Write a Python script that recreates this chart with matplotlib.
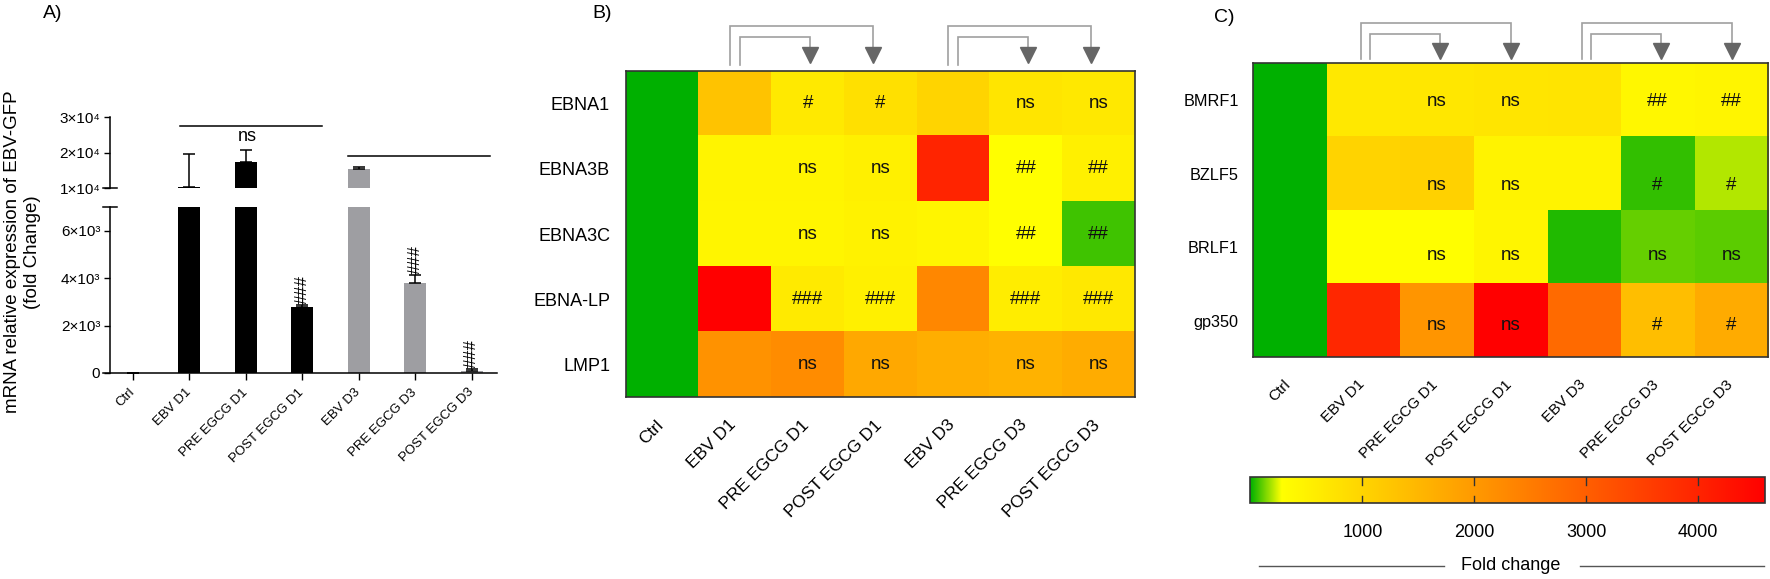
import numpy as np
import matplotlib
matplotlib.use('Agg')
import matplotlib.pyplot as plt
from matplotlib.colors import LinearSegmentedColormap, Normalize
from matplotlib.transforms import blended_transform_factory, ScaledTranslation
from matplotlib.lines import Line2D
import matplotlib.cm as cm

plt.rcParams['font.family'] = ['Liberation Sans', 'DejaVu Sans']

# ---------------- data ----------------
categories = ["Ctrl", "EBV D1", "PRE EGCG D1", "POST EGCG D1",
              "EBV D3", "PRE EGCG D3", "POST EGCG D3"]

# Panel A: mRNA relative expression of EBV-GFP
bar_values = [0, 10370, 17440, 2780, 15290, 3790, 100]
bar_err = [0, 9170, 3400, 90, 740, 340, 60]
hash_A = ["", "", "", "###", "", "###", "###"]
lower_ticks = [0, 2000, 4000, 6000]
lower_ticklabels = ["0", "2×10³", "4×10³", "6×10³"]
upper_ticks = [10000, 20000, 30000]
upper_ticklabels = ["1×10⁴", "2×10⁴", "3×10⁴"]

# Panel B: latent genes fold change
genes_B = ["EBNA1", "EBNA3B", "EBNA3C", "EBNA-LP", "LMP1"]
fold_B = [
    [0, 1296, 636, 805, 992, 720, 670],
    [0, 466, 466, 534, 3990, 282, 534],
    [0, 449, 449, 500, 449, 282, 70],
    [0, 4600, 619, 534, 2296, 585, 670],
    [0, 2127, 2228, 1754, 1652, 1568, 1669],
]
sig_B = [
    ["", "", "#", "#", "", "ns", "ns"],
    ["", "", "ns", "ns", "", "##", "##"],
    ["", "", "ns", "ns", "", "##", "##"],
    ["", "", "###", "###", "", "###", "###"],
    ["", "", "ns", "ns", "", "ns", "ns"],
]

# Panel C: lytic genes fold change
genes_C = ["BMRF1", "BZLF5", "BRLF1", "gp350"]
fold_C = [
    [0, 670, 680, 720, 737, 415, 449],
    [0, 1009, 1060, 483, 483, 56, 196],
    [0, 282, 282, 449, 37, 112, 101],
    [0, 3922, 2059, 4600, 2804, 1381, 1703],
]
sig_C = [
    ["", "", "ns", "ns", "", "##", "##"],
    ["", "", "ns", "ns", "", "#", "#"],
    ["", "", "ns", "ns", "", "ns", "ns"],
    ["", "", "ns", "ns", "", "#", "#"],
]
cbar_ticks = [1000, 2000, 3000, 4000]
cbar_range = (0, 4600)

# ---------------- layout helpers ----------------
W, H, DPI = 1770, 579, 100
fig = plt.figure(figsize=(W / DPI, H / DPI), dpi=DPI)


def fig_axes(x0, y0, x1, y1):
    return fig.add_axes([x0 / W, 1 - y1 / H, (x1 - x0) / W, (y1 - y0) / H])


def fy(ypx):
    return 1 - ypx / H


def shift(labels, dx_px, dy_px=0):
    off = ScaledTranslation(dx_px / DPI, -dy_px / DPI, fig.dpi_scale_trans)
    for lab in labels:
        lab.set_transform(lab.get_transform() + off)


# ---------------- Panel A ----------------
x = np.arange(len(categories))
bar_colors = ['#000000'] * 4 + ['#9e9ea2'] * 3
xlim = (-0.53, 6.45)
yaxis_x = -0.41

axL = fig_axes(103, 207, 497, 373)
axU = fig_axes(103, 117.3, 497, 188)
for ax, ylim in ((axL, (0, 7000)), (axU, (10000, 30000))):
    ax.bar(x, bar_values, width=0.39, color=bar_colors, zorder=2)
    ax.errorbar(x, bar_values, yerr=[np.zeros(len(x)), bar_err], fmt='none',
                ecolor='black', elinewidth=1.1, capsize=4.5, capthick=1.1, zorder=3)
    ax.set_xlim(*xlim)
    ax.set_ylim(*ylim)
    ax.patch.set_alpha(0)
    for s in ('top', 'right'):
        ax.spines[s].set_visible(False)
    ax.spines['left'].set_position(('data', yaxis_x))
    ax.spines['left'].set_linewidth(1.1)
    ax.spines['bottom'].set_linewidth(1.1)
    ax.tick_params(axis='y', direction='out', length=4.3, width=1.0, pad=2.5,
                   labelsize=11)

axL.spines['left'].set_bounds(0, 7000)
axL.set_yticks(lower_ticks)
axL.set_yticklabels(lower_ticklabels)
axL.set_xticks(x)
axL.set_xticklabels(categories, rotation=45, ha='right', va='top', fontsize=9.5)
axL.tick_params(axis='x', direction='out', length=5, width=1.0, pad=4.5)
shift(axL.get_xticklabels(), 4)

axU.spines['bottom'].set_visible(False)
axU.set_xticks([])
axU.set_yticks(upper_ticks)
axU.set_yticklabels(upper_ticklabels)

# axis break marks
axU.plot([-0.53, -0.28], [10000, 10000], color='black', lw=1.1, clip_on=False)
axL.plot([-0.53, -0.28], [7000, 7000], color='black', lw=1.1, clip_on=False)

# significance
axU.plot([0.83, 3.35], [27550, 27550], color='black', lw=1.1, clip_on=False)
axU.text(2.02, 24430, 'ns', ha='center', va='center', fontsize=13)
axU.plot([3.81, 6.33], [19060, 19060], color='black', lw=1.1, clip_on=False)
for i, s in enumerate(hash_A):
    if s:
        axL.text(x[i], bar_values[i] + bar_err[i] + 30, s, rotation=90,
                 ha='center', va='bottom', fontsize=12.5, clip_on=False)

fig.text(22.5 / W, fy(252), "mRNA relative expression of EBV-GFP\n(fold Change)",
         rotation=90, ha='center', va='center', multialignment='center',
         fontsize=13.5, linespacing=1.25)
fig.text(43 / W, fy(14), "A)", ha='left', va='center', fontsize=14)

# ---------------- heatmaps ----------------
cmap = LinearSegmentedColormap.from_list(
    'fold', [(0.0, '#00b000'), (280 / 4600, '#ffff00'), (1.0, '#ff0000')], N=4096)
norm = Normalize(*cbar_range)


def heatmap(box, genes, fold, sig, xfs, yfs, ypad, ann_dy=None):
    ax = fig_axes(*box)
    ax.imshow(np.array(fold, dtype=float), cmap=cmap, norm=norm, aspect='auto',
              interpolation='nearest')
    for s in ax.spines.values():
        s.set_linewidth(1.2)
        s.set_color('#333333')
    ax.set_xticks(range(len(categories)))
    ax.set_xticklabels(categories, rotation=45, ha='right', va='top', fontsize=xfs)
    ax.set_yticks(range(len(genes)))
    ax.set_yticklabels(genes, fontsize=yfs)
    ax.tick_params(axis='x', length=0, pad=14.4)
    ax.tick_params(axis='y', length=0, pad=ypad)
    shift(ax.get_xticklabels(), 4)
    for i, row in enumerate(sig):
        for j, s in enumerate(row):
            if s:
                t = ax.text(j, i, s, ha='center', va='center', fontsize=13.5,
                            color='#111111')
                if ann_dy is not None:
                    t.set_transform(t.get_transform() + ScaledTranslation(
                        0, -ann_dy[i] / DPI, fig.dpi_scale_trans))
    return ax


def brackets(ax, src, tgt_near, tgt_far, outer_top, inner_top, bottom, arrow_top,
             arrow_mid, dx_out, dx_in, dx_near, dx_far):
    tr = blended_transform_factory(ax.transData, fig.transFigure)
    line_kw = dict(color='#a0a0a0', lw=1.2, clip_on=False, transform=tr,
                   solid_joinstyle='miter')
    xo, xi = src + dx_out, src + dx_in
    xn, xf = tgt_near + dx_near, tgt_far + dx_far
    ax.plot([xo, xo, xf, xf], [fy(bottom), fy(outer_top), fy(outer_top), fy(arrow_top)],
            **line_kw)
    ax.plot([xi, xi, xn, xn], [fy(bottom), fy(inner_top), fy(inner_top), fy(arrow_top)],
            **line_kw)
    ax.plot([xn, xf], [fy(arrow_mid)] * 2, ls='none', marker='v', ms=11.5,
            color='#666666', transform=tr, clip_on=False)


# Panel B
axB = heatmap((626, 71, 1135, 397.3), genes_B, fold_B, sig_B, 12.5, 13, 11.5)
for src in (1, 4):
    brackets(axB, src, src + 1, src + 2, 25.7, 37.3, 65, 47, 55.3,
             -0.065, 0.07, 0.03, -0.1)
fig.text(592 / W, fy(14), "B)", ha='left', va='center', fontsize=14)

# Panel C
axC = heatmap((1252.7, 63.3, 1768, 357.3), genes_C, fold_C, sig_C, 11, 11.7, 10,
              ann_dy=[1, 12, 8, 5])
for src in (1, 4):
    brackets(axC, src, src + 1, src + 2, 23.3, 33.7, 59, 43, 50.5,
             -0.03, 0.09, 0.04, 0.01)
fig.text(1214 / W, fy(17), "C)", ha='left', va='center', fontsize=14)

# Colorbar
cax = fig_axes(1250.4, 477.3, 1765.4, 503.3)
sm = cm.ScalarMappable(norm=norm, cmap=cmap)
cb = fig.colorbar(sm, cax=cax, orientation='horizontal')
cb.set_ticks(cbar_ticks)
cb.set_ticklabels([str(t) for t in cbar_ticks])
cax.tick_params(axis='x', length=0, pad=15, labelsize=13)
cb.outline.set_linewidth(1.2)
cb.outline.set_edgecolor('#333333')
ctr = blended_transform_factory(cax.transData, cax.transAxes)
for t in cbar_ticks:
    cax.plot([t, t], [0, 0.28], color='#333333', lw=1.0, transform=ctr)
    cax.plot([t, t], [0.72, 1], color='#333333', lw=1.0, transform=ctr)

fig.text(1511 / W, fy(566), "Fold change", ha='center', va='center', fontsize=13)
for xa, xb in ((1259, 1444), (1579.5, 1763.7)):
    fig.add_artist(Line2D([xa / W, xb / W], [fy(566)] * 2, color='#555555', lw=1.0,
                          transform=fig.transFigure))

fig.savefig('out.png', dpi=DPI)
